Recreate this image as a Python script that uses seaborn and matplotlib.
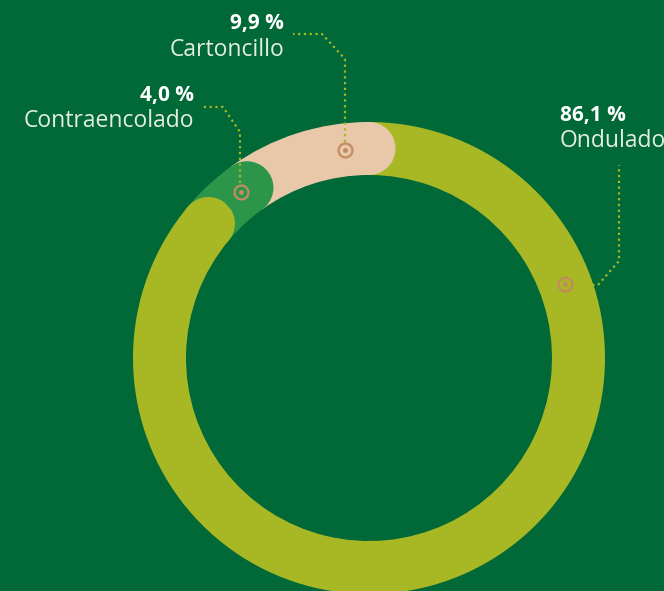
import matplotlib
matplotlib.use("Agg")
import matplotlib.pyplot as plt
from matplotlib.patches import Circle
import numpy as np
import seaborn as sns

# --- Data ---
categories = ["Ondulado", "Contraencolado", "Cartoncillo"]
shares = [86.1, 4.0, 9.9]

# --- Style ---
BG = "#006937"
SEG_COLORS = ["#a8b825", "#2b964a", "#e8c8a9"]
MARKER_COLOR = "#c38a60"
LEADER_COLOR = "#a8b825"
W, H = 664, 591

sns.set_theme(style="white")
plt.rcParams['font.family'] = ['Open Sans', 'DejaVu Sans']

fig = plt.figure(figsize=(W / 100, H / 100), dpi=100, facecolor=BG)
ax = fig.add_axes([0, 0, 1, 1])
ax.set_facecolor(BG)

# ring geometry (pixel units, y up)
cx, cy = 369, H - 358
r_out, ring_w = 236, 53
r_mid = r_out - ring_w / 2

ax.pie(shares, colors=SEG_COLORS, startangle=90, counterclock=False,
       radius=r_out, center=(cx, cy),
       wedgeprops={'width': ring_w, 'linewidth': 0})

# rounded caps at the clockwise end of each segment
cum = np.cumsum(shares)
for i, c in enumerate(cum):
    a = np.deg2rad(90 - 360 * c / 100)
    ax.add_patch(Circle((cx + r_mid * np.cos(a), cy + r_mid * np.sin(a)),
                        ring_w / 2, color=SEG_COLORS[i], lw=0, zorder=3))

# markers, leader lines and labels
marker_angles = {"Ondulado": 20.6, "Contraencolado": 127.5, "Cartoncillo": 96.6}
leaders = {
    "Ondulado": [(575, 285), (598, 285), (619, 261), (619, 165)],
    "Contraencolado": [(240, 183), (240, 132), (223, 107), (203, 107)],
    "Cartoncillo": [(345, 142), (345, 59), (322, 34), (293, 34)],
}
label_pos = {
    "Ondulado": (560, 'left'),
    "Contraencolado": (194, 'right'),
    "Cartoncillo": (284, 'right'),
}
label_y = {"Ondulado": 115, "Contraencolado": 95, "Cartoncillo": 24}

for name, val in zip(categories, shares):
    a = np.deg2rad(marker_angles[name])
    mx, my = cx + r_mid * np.cos(a), cy + r_mid * np.sin(a)
    ax.plot(mx, my, marker='o', ms=10, mfc='none', mec=MARKER_COLOR, mew=1.6, zorder=5)
    ax.plot(mx, my, marker='o', ms=2.5, color=MARKER_COLOR, zorder=5)

    pts = leaders[name]
    ax.plot([p[0] for p in pts], [H - p[1] for p in pts], color=LEADER_COLOR,
            lw=1.6, linestyle=(0, (1, 1.6)), zorder=4)

    x, ha = label_pos[name]
    y = H - label_y[name]
    pct = f"{val:.1f}".replace('.', ',') + " %"
    ax.text(x, y, pct, color='white', fontsize=15, fontweight='bold', ha=ha, va='center')
    ax.text(x, y - 26, name, color='#e4eee4', fontsize=16.5, ha=ha, va='center')

ax.set_xlim(0, W)
ax.set_ylim(0, H)
ax.set_aspect('equal')
ax.axis('off')

fig.savefig("out.png", dpi=100, facecolor=BG)
